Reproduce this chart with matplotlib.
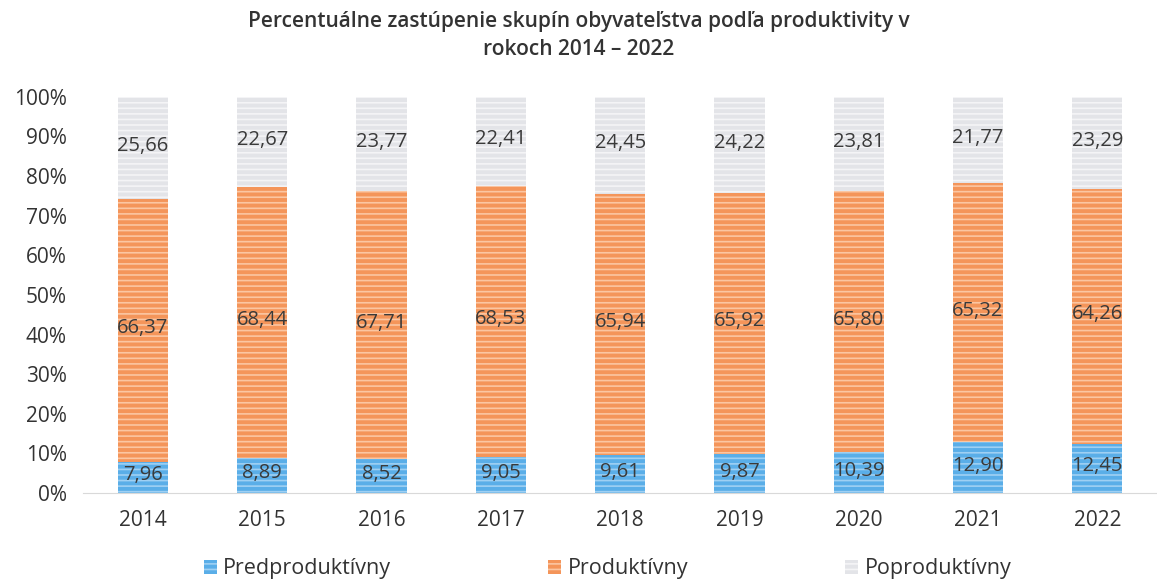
import matplotlib.pyplot as plt
import numpy as np

years = ['2014', '2015', '2016', '2017', '2018', '2019', '2020', '2021', '2022']
predprod = [7.96, 8.89, 8.52, 9.05, 9.61, 9.87, 10.39, 12.90, 12.45]
prod = [66.37, 68.44, 67.71, 68.53, 65.94, 65.92, 65.80, 65.32, 64.26]
poprod = [25.66, 22.67, 23.77, 22.41, 24.45, 24.22, 23.81, 21.77, 23.29]

plt.rcParams['font.family'] = ['Open Sans', 'DejaVu Sans']
plt.rcParams['hatch.linewidth'] = 1.2

fig = plt.figure(figsize=(11.57, 5.87), dpi=100)
ax = fig.add_axes([0.072, 0.16, 0.928, 0.675])

x = np.arange(len(years))
w = 0.42

def fmt(v):
    return ('%.2f' % v).replace('.', ',')

b1 = ax.bar(x, predprod, w, color='#5aaee8', edgecolor='#9fd0f3', hatch='---', linewidth=0, label='Predproduktívny')
b2 = ax.bar(x, prod, w, bottom=predprod, color='#f4955a', edgecolor='#fbc6a2', hatch='---', linewidth=0, label='Produktívny')
bottom3 = [a + b for a, b in zip(predprod, prod)]
b3 = ax.bar(x, poprod, w, bottom=bottom3, color='#e3e4e8', edgecolor='#f4f4f6', hatch='---', linewidth=0, label='Poproduktívny')

for bars, vals, bots in [(b1, predprod, [0]*9), (b2, prod, predprod), (b3, poprod, bottom3)]:
    for i, v in enumerate(vals):
        ax.text(x[i], bots[i] + v / 2 + 0.5, fmt(v), ha='center', va='center', fontsize=14.5, color='#3a3a3a')

ax.set_xlim(-0.5, len(years) - 0.5)
ax.set_ylim(0, 100)
ax.set_yticks(range(0, 101, 10))
ax.set_yticklabels(['%d%%' % t for t in range(0, 101, 10)], fontsize=15, color='#333333')
ax.set_xticks(x)
ax.set_xticklabels(years, fontsize=15, color='#333333')
ax.tick_params(length=0, pad=12)
ax.tick_params(axis='y', pad=12)
for s in ['top', 'right', 'left']:
    ax.spines[s].set_visible(False)
ax.spines['bottom'].set_color('#d9d9d9')

fig.text(0.5, 0.94, 'Percentuálne zastúpenie skupín obyvateľstva podľa produktivity v\nrokoch 2014 – 2022',
         ha='center', va='center', fontsize=15, color='#333333', linespacing=1.45, fontweight='semibold')

leg = fig.legend(handles=[b1, b2, b3], loc='lower center', bbox_to_anchor=(0.525, -0.02), ncol=3,
                 frameon=False, fontsize=15.5, handlelength=0.6, handleheight=0.6, handletextpad=0.3,
                 columnspacing=7.3)
for t in leg.get_texts():
    t.set_color('#333333')

fig.savefig('out.png', dpi=100)
